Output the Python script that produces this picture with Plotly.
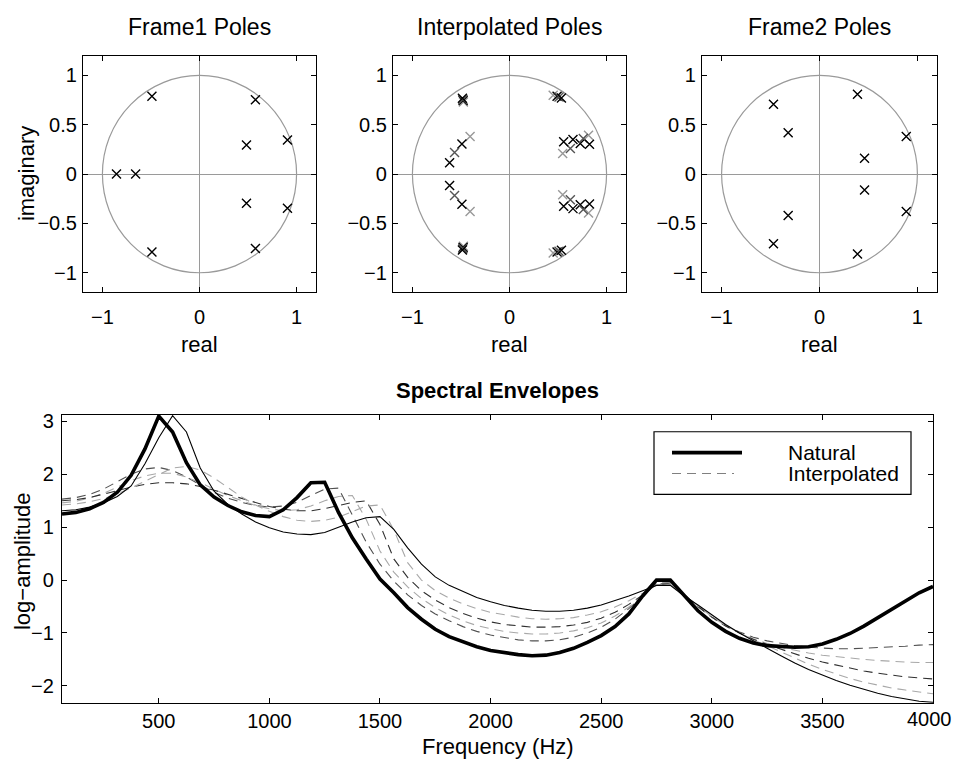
import plotly.graph_objects as go

# ---------------- pole data (real / imaginary parts) ----------------
frame1_re = [-0.49, -0.49, 0.576, 0.576, 0.484, 0.484, 0.906, 0.906, -0.855, -0.658]
frame1_im = [0.79, -0.79, 0.754, -0.754, 0.295, -0.295, 0.345, -0.345, 0.0, 0.0]

frame2_re = [-0.47, -0.47, -0.32, -0.32, 0.388, 0.388, 0.46, 0.46, 0.886, 0.886]
frame2_im = [0.707, -0.707, 0.42, -0.42, 0.81, -0.81, 0.16, -0.16, 0.38, -0.38]

interp1_re = [-0.485, -0.485, -0.617, -0.617, 0.535, 0.535, 0.558, 0.558, 0.824, 0.824]
interp1_im = [0.77, -0.77, 0.115, -0.115, 0.772, -0.772, 0.327, -0.327, 0.303, -0.303]
interp2_re = [-0.48, -0.48, -0.566, -0.566, 0.51, 0.51, 0.627, 0.627, 0.76, 0.76]
interp2_im = [0.757, -0.757, 0.218, -0.218, 0.782, -0.782, 0.26, -0.26, 0.36, -0.36]
interp3_re = [-0.478, -0.478, -0.49, -0.49, 0.49, 0.49, 0.654, 0.654, 0.729, 0.729]
interp3_im = [0.745, -0.745, 0.305, -0.305, 0.79, -0.79, 0.35, -0.35, 0.31, -0.31]
interp4_re = [-0.475, -0.475, -0.406, -0.406, 0.45, 0.45, 0.548, 0.548, 0.814, 0.814]
interp4_im = [0.732, -0.732, 0.38, -0.38, 0.80, -0.80, 0.209, -0.209, 0.394, -0.394]
interp_colors = ["#000000", "#555555", "#000000", "#999999"]

# ---------------- spectral envelopes (log-amplitude) ----------------
freq_hz = [62.5, 125, 187.5, 250, 312.5, 375, 437.5, 500, 562.5, 625,
           687.5, 750, 812.5, 875, 937.5, 1000, 1062.5, 1125, 1187.5, 1250,
           1312.5, 1375, 1437.5, 1500, 1562.5, 1625, 1687.5, 1750, 1812.5, 1875,
           1937.5, 2000, 2062.5, 2125, 2187.5, 2250, 2312.5, 2375, 2437.5, 2500,
           2562.5, 2625, 2687.5, 2750, 2812.5, 2875, 2937.5, 3000, 3062.5, 3125,
           3187.5, 3250, 3312.5, 3375, 3437.5, 3500, 3562.5, 3625, 3687.5, 3750,
           3812.5, 3875, 3937.5, 4000]

natural_frame1 = [1.25, 1.28, 1.35, 1.47, 1.66, 1.98, 2.48, 3.10, 2.80, 2.22,
                  1.80, 1.57, 1.41, 1.29, 1.22, 1.20, 1.33, 1.56, 1.84, 1.85,
                  1.28, 0.80, 0.40, 0.02, -0.24, -0.52, -0.74, -0.93, -1.07, -1.17,
                  -1.26, -1.33, -1.37, -1.41, -1.43, -1.42, -1.37, -1.29, -1.18, -1.05,
                  -0.88, -0.64, -0.30, 0.00, 0.00, -0.30, -0.58, -0.80, -0.97, -1.10,
                  -1.19, -1.24, -1.26, -1.27, -1.26, -1.21, -1.12, -1.01, -0.87, -0.71,
                  -0.54, -0.38, -0.24, -0.12]

natural_frame2 = [1.31, 1.33, 1.38, 1.46, 1.58, 1.78, 2.20, 2.69, 3.11, 2.80,
                  2.12, 1.68, 1.43, 1.25, 1.10, 0.99, 0.91, 0.87, 0.86, 0.90,
                  1.00, 1.10, 1.18, 1.20, 0.96, 0.61, 0.30, 0.06, -0.10, -0.22,
                  -0.33, -0.41, -0.48, -0.53, -0.57, -0.59, -0.59, -0.57, -0.53, -0.47,
                  -0.39, -0.30, -0.20, -0.10, -0.10, -0.30, -0.47, -0.66, -0.84, -1.00,
                  -1.15, -1.29, -1.43, -1.57, -1.69, -1.80, -1.90, -1.99, -2.07, -2.14,
                  -2.20, -2.25, -2.29, -2.31]

interp_env1 = [1.53, 1.56, 1.62, 1.72, 1.86, 2.00, 2.10, 2.13, 2.07, 1.95,
               1.80, 1.66, 1.55, 1.47, 1.41, 1.38, 1.40, 1.47, 1.60, 1.72,
               1.74, 1.22, 0.72, 0.30, -0.02, -0.28, -0.48, -0.64, -0.77, -0.88,
               -0.97, -1.04, -1.09, -1.13, -1.15, -1.15, -1.13, -1.08, -1.00, -0.89,
               -0.74, -0.54, -0.30, -0.06, -0.05, -0.27, -0.50, -0.70, -0.86, -0.98,
               -1.08, -1.15, -1.20, -1.24, -1.27, -1.29, -1.30, -1.30, -1.29, -1.28,
               -1.26, -1.25, -1.23, -1.22]

interp_env2 = [1.46, 1.49, 1.55, 1.64, 1.76, 1.88, 1.97, 2.02, 2.02, 1.95,
               1.84, 1.72, 1.60, 1.50, 1.41, 1.35, 1.31, 1.33, 1.40, 1.50,
               1.58, 1.60, 1.15, 0.55, 0.15, -0.13, -0.35, -0.52, -0.66, -0.77,
               -0.86, -0.92, -0.97, -1.00, -1.02, -1.02, -1.00, -0.96, -0.90, -0.81,
               -0.68, -0.51, -0.30, -0.08, -0.06, -0.27, -0.50, -0.70, -0.87, -1.00,
               -1.11, -1.20, -1.27, -1.33, -1.38, -1.42, -1.45, -1.48, -1.50, -1.52,
               -1.54, -1.55, -1.56, -1.56]

interp_env3 = [1.50, 1.52, 1.56, 1.62, 1.69, 1.76, 1.81, 1.84, 1.84, 1.82,
               1.77, 1.70, 1.62, 1.54, 1.46, 1.39, 1.34, 1.31, 1.31, 1.35,
               1.41, 1.47, 1.50, 1.05, 0.40, 0.05, -0.20, -0.38, -0.52, -0.63,
               -0.72, -0.79, -0.84, -0.87, -0.89, -0.89, -0.88, -0.85, -0.80, -0.72,
               -0.61, -0.46, -0.28, -0.08, -0.07, -0.27, -0.50, -0.70, -0.87, -1.00,
               -1.12, -1.22, -1.31, -1.40, -1.48, -1.55, -1.61, -1.67, -1.72, -1.76,
               -1.80, -1.83, -1.85, -1.87]

interp_env4 = [1.42, 1.44, 1.48, 1.54, 1.63, 1.74, 1.87, 2.00, 2.12, 2.15,
               2.08, 1.93, 1.75, 1.57, 1.42, 1.30, 1.20, 1.13, 1.11, 1.13,
               1.19, 1.29, 1.40, 1.42, 0.95, 0.33, 0.00, -0.20, -0.34, -0.45,
               -0.54, -0.61, -0.66, -0.70, -0.73, -0.74, -0.73, -0.71, -0.66, -0.60,
               -0.51, -0.39, -0.25, -0.09, -0.08, -0.27, -0.49, -0.69, -0.86, -1.00,
               -1.13, -1.24, -1.36, -1.48, -1.59, -1.69, -1.78, -1.86, -1.93, -1.99,
               -2.04, -2.08, -2.12, -2.15]
env_colors = ["#505050", "#a8a8a8", "#303030", "#a8a8a8"]

pole_x_ticks = [-1, 0, 1]
pole_y_ticks = [-1, -0.5, 0, 0.5, 1]
freq_ticks = [500, 1000, 1500, 2000, 2500, 3000, 3500]
freq_last_tick = 4000
amp_ticks = [-2, -1, 0, 1, 2, 3]

FONT = "Liberation Sans, Arial, Helvetica, sans-serif"
W, H = 955, 759


def px_x(p):
    return p / W


def px_y(p):
    return 1 - p / H


fig = go.Figure()

# ---------------- pole plots ----------------
def add_poles(re, im, axis, color):
    fig.add_trace(go.Scatter(
        x=re, y=im, mode="markers", xaxis="x" + axis, yaxis="y" + axis,
        marker=dict(symbol="x-thin", size=9, line=dict(color=color, width=1.4)),
        showlegend=False, hoverinfo="x+y"))


add_poles(frame1_re, frame1_im, "", "#000000")
for re, im, c in zip([interp4_re, interp3_re, interp2_re, interp1_re],
                     [interp4_im, interp3_im, interp2_im, interp1_im],
                     interp_colors[::-1]):
    add_poles(re, im, "2", c)
add_poles(frame2_re, frame2_im, "3", "#000000")

# ---------------- spectral envelopes ----------------
for env, c in zip([interp_env1, interp_env2, interp_env3, interp_env4], env_colors):
    fig.add_trace(go.Scatter(
        x=freq_hz, y=env, mode="lines", xaxis="x4", yaxis="y4",
        line=dict(color=c, width=1.1, dash="9px,6px"),
        name="Interpolated", showlegend=False))
fig.add_trace(go.Scatter(x=freq_hz, y=natural_frame2, mode="lines", xaxis="x4", yaxis="y4",
                         line=dict(color="black", width=1.1), name="Natural", showlegend=False))
fig.add_trace(go.Scatter(x=freq_hz, y=natural_frame1, mode="lines", xaxis="x4", yaxis="y4",
                         line=dict(color="black", width=3.6), name="Natural", showlegend=False))

# ---------------- axes ----------------
top_dom_y = [px_y(290), px_y(52)]
pole_dx = [[px_x(83), px_x(316)], [px_x(393), px_x(626)], [px_x(702), px_x(937)]]

common = dict(showline=True, linecolor="black", linewidth=1.2, mirror="allticks",
              ticks="inside", ticklen=5, tickwidth=1, tickcolor="black",
              showgrid=False, tickfont=dict(family=FONT, size=20, color="black"))

layout = dict(width=W, height=H, margin=dict(l=0, r=0, t=0, b=0), autosize=False,
              paper_bgcolor="white", plot_bgcolor="white",
              font=dict(family=FONT, color="black"))

for i, suffix in enumerate(["", "2", "3"]):
    layout["xaxis" + suffix] = dict(common, domain=pole_dx[i], range=[-1.2, 1.2],
                                    tickvals=pole_x_ticks, zeroline=True,
                                    zerolinecolor="#9a9a9a", zerolinewidth=1.2,
                                    anchor="y" + suffix, ticklabelstandoff=6)
    layout["yaxis" + suffix] = dict(common, domain=top_dom_y, range=[-1.2, 1.2],
                                    tickvals=pole_y_ticks, zeroline=True,
                                    zerolinecolor="#9a9a9a", zerolinewidth=1.2,
                                    anchor="x" + suffix, ticklabelstandoff=1)

layout["xaxis4"] = dict(common, domain=[px_x(62), px_x(933)], range=[62.5, 4000],
                        tickvals=freq_ticks, zeroline=False, anchor="y4",
                        ticklabelstandoff=0)
layout["yaxis4"] = dict(common, domain=[px_y(703), px_y(413)], range=[-2.33, 3.125],
                        tickvals=amp_ticks, zeroline=False, anchor="x4",
                        ticklabelstandoff=3)

# unit circles
shapes = []
for suffix in ["", "2", "3"]:
    shapes.append(dict(type="circle", xref="x" + suffix, yref="y" + suffix,
                       x0=-1, y0=-1, x1=1, y1=1, layer="below",
                       line=dict(color="#9a9a9a", width=1.2)))

# legend box
shapes.append(dict(type="rect", xref="paper", yref="paper",
                   x0=px_x(654), x1=px_x(911), y0=px_y(493), y1=px_y(430),
                   line=dict(color="black", width=1.2), fillcolor="white", layer="above"))
shapes.append(dict(type="line", xref="paper", yref="paper",
                   x0=px_x(672), x1=px_x(742), y0=px_y(451), y1=px_y(451),
                   line=dict(color="black", width=3.6), layer="above"))
shapes.append(dict(type="line", xref="paper", yref="paper",
                   x0=px_x(672), x1=px_x(734), y0=px_y(472), y1=px_y(472),
                   line=dict(color="#808080", width=1.1, dash="9px,6px"), layer="above"))
layout["shapes"] = shapes

ann = []


def text(x, y, s, size, angle=0, bold=False, xanchor="center"):
    ann.append(dict(xref="paper", yref="paper", x=px_x(x), y=px_y(y), text=("<b>%s</b>" % s) if bold else s,
                    showarrow=False, textangle=angle, xanchor=xanchor, yanchor="middle",
                    font=dict(family=FONT, size=size, color="black")))


text(199, 23, "Frame1 Poles", 23)
text(509, 23, "Interpolated Poles", 23)
text(819, 23, "Frame2 Poles", 23)
for cx in [199, 509, 819]:
    text(cx, 342, "real", 22)
text(26, 171, "imaginary", 22, angle=-90)
text(498, 389, "Spectral Envelopes", 22, bold=True)
text(498, 746, "Frequency (Hz)", 22)
text(22, 560, "log\u2212amplitude", 22, angle=-90)
text(786, 451, "Natural", 21, xanchor="left")
text(786, 472, "Interpolated", 21, xanchor="left")

# last frequency label sits at the page edge, so keep it inside the page
ann.append(dict(xref="x4", yref="paper", x=freq_last_tick, y=px_y(719), text=str(freq_last_tick),
                showarrow=False, xanchor="right", yanchor="middle", xshift=20, borderpad=0,
                font=dict(family=FONT, size=20, color="black")))
layout["annotations"] = ann

fig.update_layout(**layout)
fig.write_html("out.html")
